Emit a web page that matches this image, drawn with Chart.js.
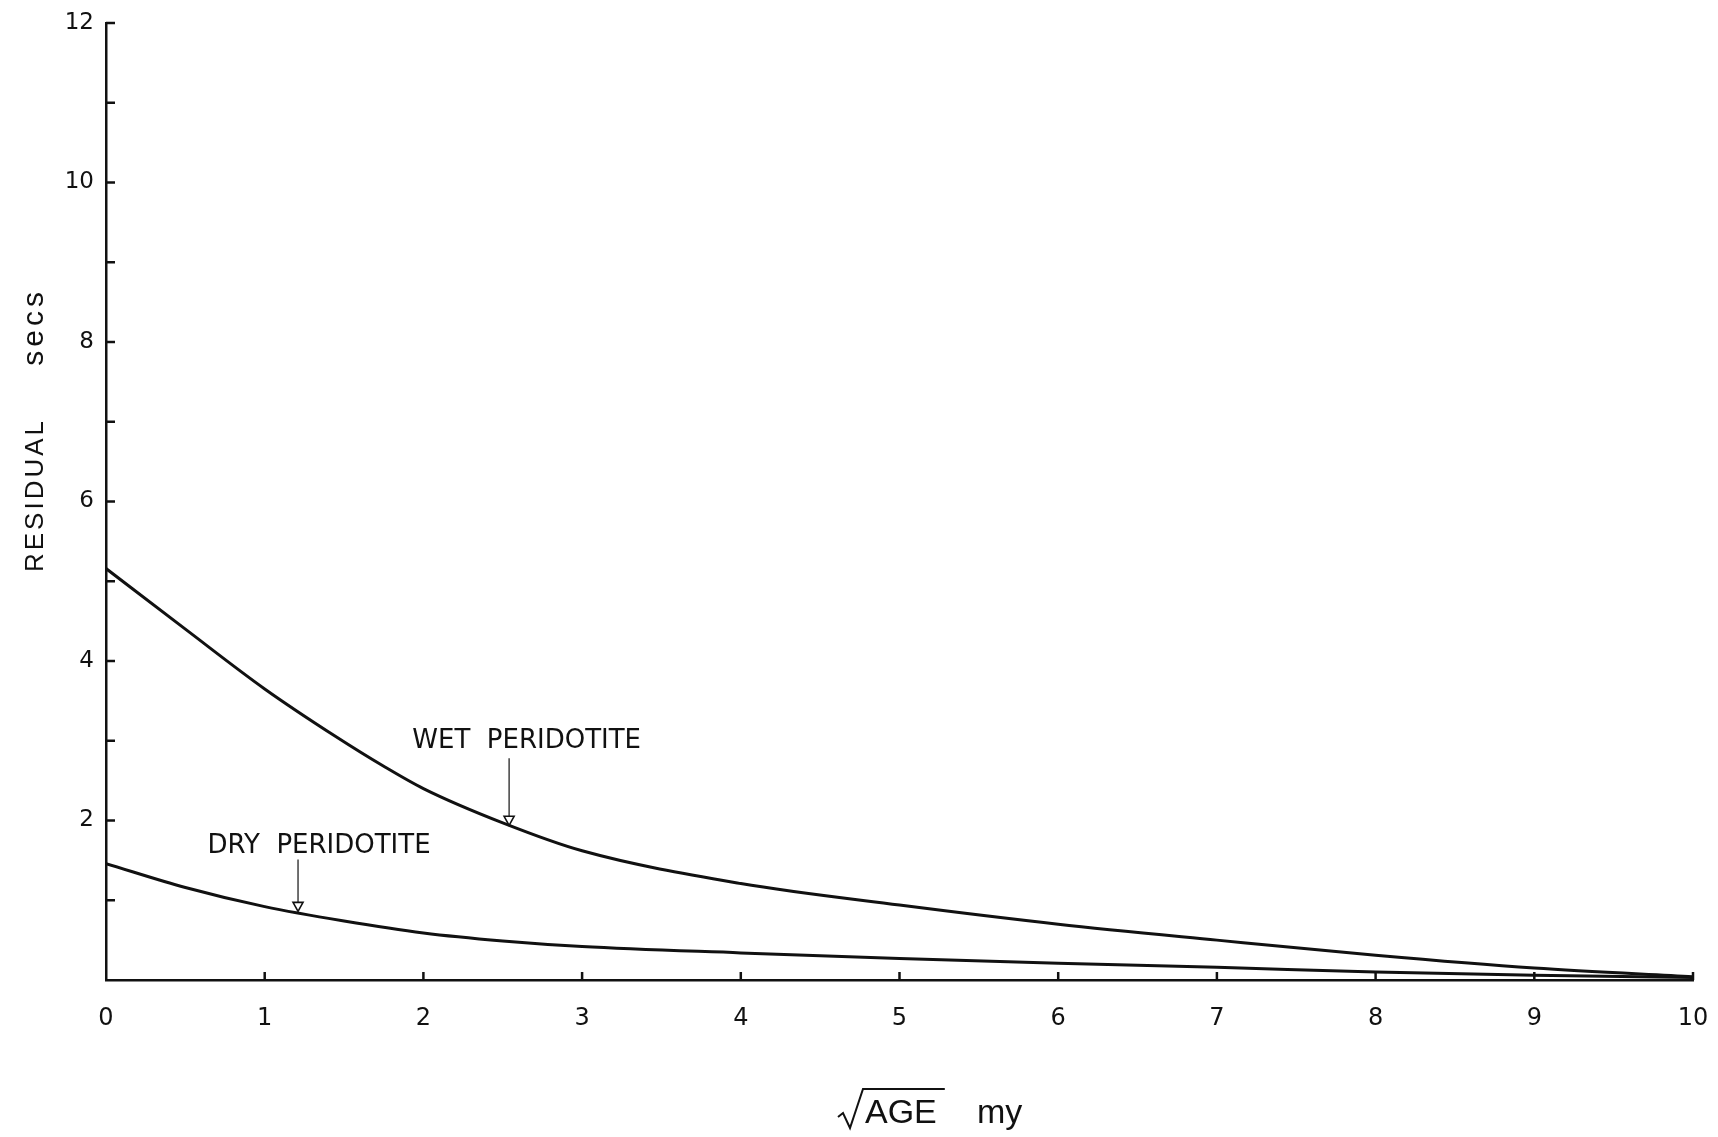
<!DOCTYPE html>
<html>
<head>
<meta charset="utf-8">
<title>Residual vs square root of age</title>
<script src="https://cdn.jsdelivr.net/npm/chart.js@4.4.1/dist/chart.umd.min.js"></script>
<style>
    html, body { margin: 0; padding: 0; background: #fff; }
</style>
</head>
<body>
<canvas id="residual-chart" width="1718" height="1137"></canvas>
<script>
// sqrt(age) in my, residual in secs
const wetAge = [0, 0.5, 1.0, 1.45, 1.75, 2.0, 2.5, 3, 4, 5, 6, 7, 8, 9, 10];
const wetResidual = [5.16, 4.40, 3.65, 3.05, 2.68, 2.40, 1.97, 1.62, 1.21, 0.94, 0.70, 0.50, 0.31, 0.15, 0.04];

const dryAge = [0, 0.5, 1.0, 1.5, 2, 2.5, 3, 4, 5, 6, 7, 8, 9, 10];
const dryResidual = [1.46, 1.16, 0.92, 0.74, 0.59, 0.49, 0.42, 0.34, 0.27, 0.21, 0.16, 0.10, 0.06, 0.03];

const xTicks = [0, 1, 2, 3, 4, 5, 6, 7, 8, 9, 10];
const yTicks = [0, 1, 2, 3, 4, 5, 6, 7, 8, 9, 10, 11, 12];

const toPoints = (xs, ys) => xs.map((x, i) => ({ x: x, y: ys[i] }));

const INK = '#111';
const LETTERING = '"DejaVu Sans", sans-serif';
const HELV = '"Liberation Sans", Arial, sans-serif';

// Inward tick marks, axis titles and the arrowed curve labels
const drawingPlugin = {
    id: 'drawing',
    afterDatasetsDraw(chart, args, opts) {
        const ctx = chart.ctx;
        const xs = chart.scales.x;
        const ys = chart.scales.y;
        const area = chart.chartArea;

        ctx.save();
        ctx.strokeStyle = INK;
        ctx.fillStyle = INK;
        ctx.lineWidth = 2.5;

        // ticks point into the plot
        yTicks.forEach(v => {
            if (v === 0) return;
            const py = ys.getPixelForValue(v);
            ctx.beginPath();
            ctx.moveTo(area.left, py);
            ctx.lineTo(area.left + 9, py);
            ctx.stroke();
        });
        xTicks.forEach(v => {
            if (v === 0) return;
            const px = xs.getPixelForValue(v);
            ctx.beginPath();
            ctx.moveTo(px, area.bottom);
            ctx.lineTo(px, area.bottom - 8);
            ctx.stroke();
        });

        // curve labels with open-headed arrows
        opts.labels.forEach(lab => {
            ctx.font = '26px ' + LETTERING;
            ctx.textAlign = 'left';
            ctx.textBaseline = 'alphabetic';
            ctx.fillText(lab.text, xs.getPixelForValue(lab.x), ys.getPixelForValue(lab.y));

            const ax = xs.getPixelForValue(lab.arrowX);
            const top = ys.getPixelForValue(lab.arrowFrom);
            const tip = ys.getPixelForValue(lab.arrowTo);
            ctx.lineWidth = 1.2;
            ctx.beginPath();
            ctx.moveTo(ax, top);
            ctx.lineTo(ax, tip - 9);
            ctx.stroke();
            ctx.beginPath();
            ctx.moveTo(ax - 5, tip - 9);
            ctx.lineTo(ax + 5, tip - 9);
            ctx.lineTo(ax, tip);
            ctx.closePath();
            ctx.fillStyle = '#fff';
            ctx.fill();
            ctx.lineWidth = 1.6;
            ctx.stroke();
            ctx.fillStyle = INK;
        });

        // y axis title, read bottom to top
        ctx.save();
        ctx.translate(area.left - 63, area.top + 549);
        ctx.rotate(-Math.PI / 2);
        ctx.textBaseline = 'alphabetic';
        ctx.font = '26px ' + HELV;
        ctx.letterSpacing = '3px';
        ctx.textAlign = 'left';
        ctx.fillText('RESIDUAL', 0, 0);
        ctx.font = '30px ' + HELV;
        ctx.letterSpacing = '4px';
        ctx.textAlign = 'right';
        ctx.fillText('secs', 284, 0);
        ctx.restore();
        ctx.letterSpacing = '0px';

        // x axis title: radical over AGE, then units
        ctx.font = '34px ' + HELV;
        ctx.textAlign = 'left';
        ctx.textBaseline = 'alphabetic';
        const baseY = 1123;
        const ageX = 865;
        const ageW = ctx.measureText('AGE').width;
        ctx.fillText('AGE', ageX, baseY);
        ctx.fillText('my', 977, baseY);
        ctx.lineWidth = 2;
        ctx.beginPath();
        ctx.moveTo(ageX - 27, baseY - 6);
        ctx.lineTo(ageX - 22, baseY - 10);
        ctx.lineTo(ageX - 15, baseY + 5);
        ctx.lineTo(ageX - 2, baseY - 34);
        ctx.lineTo(ageX + ageW + 8, baseY - 34);
        ctx.stroke();

        ctx.restore();
    }
};

const chart = new Chart(document.getElementById('residual-chart'), {
    type: 'scatter',
    data: {
        datasets: [
            {
                label: 'Wet peridotite',
                data: toPoints(wetAge, wetResidual),
                showLine: true,
                borderColor: INK,
                borderWidth: 3,
                pointRadius: 0,
                cubicInterpolationMode: 'monotone'
            },
            {
                label: 'Dry peridotite',
                data: toPoints(dryAge, dryResidual),
                showLine: true,
                borderColor: INK,
                borderWidth: 3,
                pointRadius: 0,
                cubicInterpolationMode: 'monotone'
            }
        ]
    },
    options: {
        responsive: false,
        animation: false,
        layout: { padding: { top: 23, right: 25, left: 0, bottom: 0 } },
        plugins: {
            legend: { display: false },
            tooltip: { enabled: false },
            drawing: {
                labels: [
                    { text: 'WET  PERIDOTITE', x: 1.93, y: 2.91, arrowX: 2.54, arrowFrom: 2.78, arrowTo: 1.94 },
                    { text: 'DRY  PERIDOTITE', x: 0.64, y: 1.59, arrowX: 1.21, arrowFrom: 1.51, arrowTo: 0.86 }
                ]
            }
        },
        scales: {
            x: {
                type: 'linear',
                min: 0,
                max: 10,
                grid: { display: false, drawTicks: false },
                border: { display: true, color: INK, width: 2.5 },
                ticks: {
                    stepSize: 1,
                    padding: 24,
                    color: INK,
                    font: { family: LETTERING, size: 24 }
                },
                afterFit: scale => {
                    scale.height = 157;
                    // end labels may hang past the plot edges
                    scale.paddingLeft = 0;
                    scale.paddingRight = 0;
                }
            },
            y: {
                type: 'linear',
                min: 0,
                max: 12,
                grid: { display: false, drawTicks: false },
                border: { display: true, color: INK, width: 2.5 },
                ticks: {
                    stepSize: 1,
                    padding: 12,
                    color: INK,
                    font: { family: LETTERING, size: 23 },
                    callback: v => (v > 0 && v % 2 === 0) ? String(v) : ''
                },
                afterFit: scale => {
                    scale.width = 106;
                    scale.paddingTop = 0;
                    scale.paddingBottom = 0;
                }
            }
        }
    },
    plugins: [drawingPlugin]
});
</script>
</body>
</html>
